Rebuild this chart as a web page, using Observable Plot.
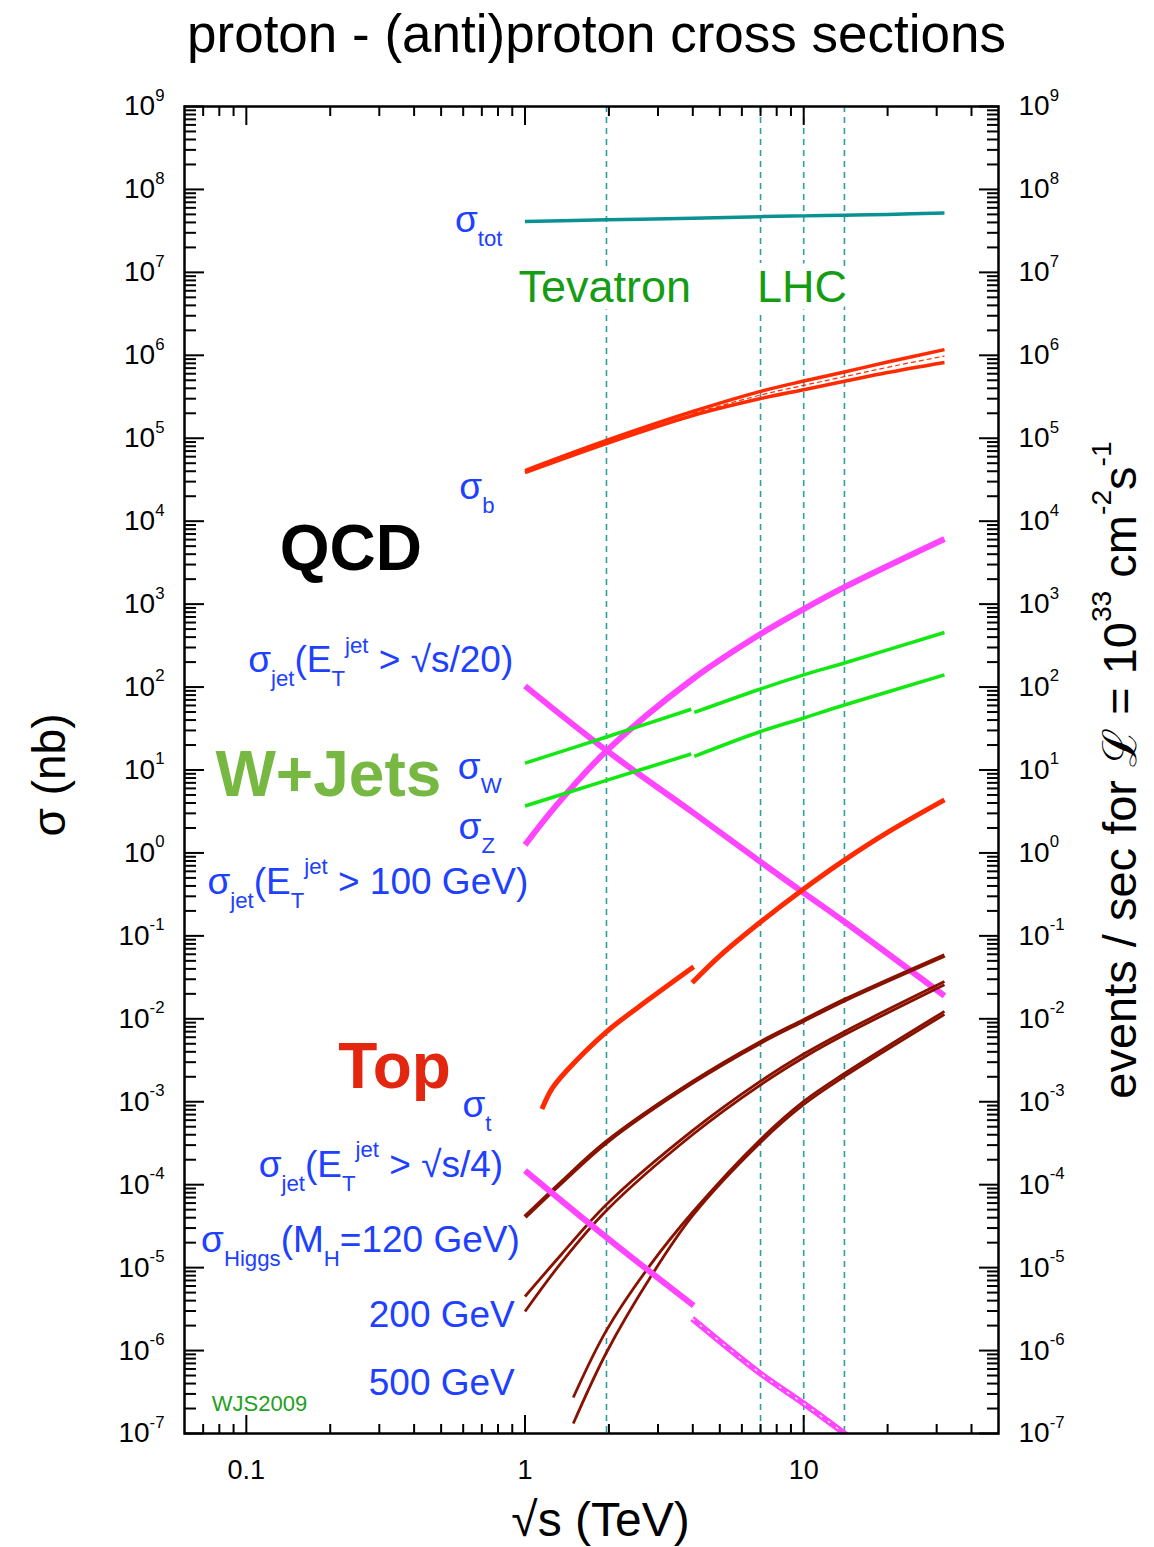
<!DOCTYPE html>
<html><head><meta charset="utf-8">
<script src="https://cdn.jsdelivr.net/npm/d3@7"></script>
<script src="https://cdn.jsdelivr.net/npm/@observablehq/plot@0.6"></script>
<style>html,body{margin:0;padding:0;background:#fff;} svg{display:block;}</style>
</head><body><div id="chart"></div>
<script>
// ---------- data (sqrt(s) in TeV, sigma in nb) ----------
const sTot = [1, 1.96, 4, 7, 10, 14, 20, 32];
const sigmaTot = [4.1e7, 4.3e7, 4.5e7, 4.7e7, 4.8e7, 4.9e7, 5.0e7, 5.2e7];

const sB = [1, 1.96, 4, 7, 10, 14, 20, 32];
const sigmaBHigh = [4.08e4, 9.4e4, 2.1e5, 3.67e5, 4.9e5, 6.3e5, 8.3e5, 1.17e6];
const sigmaBLow  = [3.86e4, 8.65e4, 1.88e5, 3.01e5, 3.85e5, 4.86e5, 6.2e5, 8.19e5];
const sBMid = [4, 7, 10, 14, 20, 32];
const sigmaBMid = [1.99e5, 3.32e5, 4.34e5, 5.53e5, 7.17e5, 9.8e5];

const sJet20 = [1, 1.96, 4, 7, 10, 14, 32];
const sigmaJet20 = [103, 17.2, 3.08, 0.78, 0.33, 0.148, 0.0189];

const sJet100 = [1, 1.3, 1.96, 4, 7, 10, 14, 32];
const sigmaJet100 = [1.25, 3.8, 17, 125, 436, 870, 1600, 6100];

const sWZppbar = [1, 1.96, 3.95];
const sWZpp = [4.05, 7, 10, 14, 32];
const sigmaWppbar = [12.1, 25, 54];
const sigmaWpp = [49.4, 94.8, 140, 195, 455];
const sigmaZppbar = [3.68, 7.5, 15.6];
const sigmaZpp = [14.6, 29.1, 42.4, 60.8, 140];

const sTopPpbar = [1.15, 1.25, 1.4, 1.96, 2.8, 4.03];
const sigmaTopPpbar = [8.2e-4, 1.44e-3, 2.3e-3, 6.97e-3, 0.0174, 0.0424];
const sTopPP = [3.98, 5, 7, 10, 14, 20, 32];
const sigmaTopPP = [0.0272, 0.0574, 0.147, 0.368, 0.82, 1.77, 4.36];

const sJet4Ppbar = [1, 1.96, 4.03];
const sigmaJet4Ppbar = [1.48e-4, 2.32e-5, 3.48e-6];
const sJet4PP = [3.98, 7, 10, 14.3];
const sigmaJet4PP = [2.43e-6, 5.28e-7, 2.3e-7, 0.95e-7];

const sH = [1, 1.35, 1.96, 4, 7, 10, 14, 32];
const sigmaH120 = [4.08e-5, 1.06e-4, 3.26e-4, 1.72e-3, 5.19e-3, 9.55e-3, 0.0168, 0.0581];
const sigmaH200High = [4.49e-6, 1.44e-5, 5.77e-5, 4.51e-4, 1.77e-3, 3.76e-3, 7.0e-3, 0.0281];
const sigmaH200Low  = [2.96e-6, 1.15e-5, 4.89e-5, 4.03e-4, 1.60e-3, 3.42e-3, 6.41e-3, 0.0258];
const sH500 = [1.49, 1.96, 2.8, 4, 7, 10, 14, 32];
const sigmaH500High = [2.72e-7, 1.75e-6, 1.05e-5, 4.68e-5, 3.51e-4, 1.01e-3, 2.19e-3, 0.0123];
const sigmaH500Low  = [1.32e-7, 9.48e-7, 7.40e-6, 4.26e-5, 3.23e-4, 9.27e-4, 2.02e-3, 0.0113];

const colliderEnergies = [1.96, 7, 10, 14];

// ticks
const yExponents = [-7, -6, -5, -4, -3, -2, -1, 0, 1, 2, 3, 4, 5, 6, 7, 8, 9];
const xTickLabels = [0.1, 1, 10];

// annotations (anchor position in data space)
const blueLabels = [
  {s: 0.830, v: 4.26e7, t: "σ_{tot}"},
  {s: 0.777, v: 2.57e4, t: "σ_{b}"},
  {s: 0.907, v: 211, t: "σ_{jet}(E_{T}^{jet} > √s/20)"},
  {s: 0.824, v: 10.9, t: "σ_{W}"},
  {s: 0.780, v: 2.06, t: "σ_{Z}"},
  {s: 1.027, v: 0.448, t: "σ_{jet}(E_{T}^{jet} > 100 GeV)"},
  {s: 0.758, v: 9.2e-4, t: "σ_{t}"},
  {s: 0.835, v: 1.74e-4, t: "σ_{jet}(E_{T}^{jet} > √s/4)"},
  {s: 0.958, v: 2.17e-5, t: "σ_{Higgs}(M_{H}=120 GeV)"},
  {s: 0.919, v: 2.64e-6, t: "200 GeV"},
  {s: 0.919, v: 4.0e-7, t: "500 GeV"}
];
const bigLabels = [
  {s: 0.237, v: 4.6e3, t: "QCD"},
  {s: 0.197, v: 8.5, t: "W+Jets"},
  {s: 0.3405, v: 2.57e-3, t: "Top"}
];
const colliderLabels = [
  {s: 1.932, v: 6.6e6, t: "Tevatron"},
  {s: 9.86, v: 6.6e6, t: "LHC"}
];
const signature = [{s: 0.0752, v: 2.3e-7, t: "WJS2009"}];

const titleText = "proton - (anti)proton cross sections";
const xTitle = "√s (TeV)";
const yTitle = "σ (nb)";
const y2Title = "events / sec for ℒ = 10^{33} cm^{-2}s^{-1}";

// ---------- helpers ----------
const rows = (seg, s, v) => s.map((x, i) => ({seg, s: x, v: v[i]}));
const bigColor = {"QCD": "#000000", "W+Jets": "#77b843", "Top": "#e3260f"};

const yMajor = yExponents.map(e => Math.pow(10, e));
const yMinor = [];
for (const e of yExponents.slice(0, -1)) for (let k = 2; k <= 9; k++) yMinor.push(k * Math.pow(10, e));
const xMajor = xTickLabels;
const xMinor = [0.07, 0.08, 0.09, 0.2, 0.3, 0.4, 0.5, 0.6, 0.7, 0.8, 0.9, 2, 3, 4, 5, 6, 7, 8, 9, 20, 30, 40];

const FONT = "'Liberation Sans', Arial, Helvetica, sans-serif";
const BLUE = "#2040ff";
const lineOpts = {x: "s", y: "v", z: "seg", curve: "catmull-rom", strokeLinecap: "butt"};

const supFmt = d => `10^{${Math.round(Math.log10(d))}}`;
const blank = () => "";

const svg = Plot.plot({
  width: 1154,
  height: 1547,
  marginLeft: 184,
  marginRight: 156,
  marginTop: 106,
  marginBottom: 114,
  x: {type: "log", domain: [0.06, 50]},
  y: {type: "log", domain: [1e-7, 1e9]},
  style: {fontFamily: FONT, fontSize: "26px", background: "#fff", color: "#000", overflow: "visible"},
  marks: [
    Plot.ruleX(colliderEnergies, {stroke: "#2e9e9e", strokeWidth: 1.6, strokeDasharray: "6,5"}),
    Plot.text(colliderLabels, {x: "s", y: "v", text: "t", fill: "#159c15", fontSize: 45, stroke: "white", strokeWidth: 16, strokeLinejoin: "round"}),

    Plot.line(rows("tot", sTot, sigmaTot), {...lineOpts, stroke: "#089292", strokeWidth: 3.5}),

    Plot.line(rows("bh", sB, sigmaBHigh), {...lineOpts, stroke: "#ff2a00", strokeWidth: 3.5}),
    Plot.line(rows("bl", sB, sigmaBLow), {...lineOpts, stroke: "#ff2a00", strokeWidth: 3.5}),
    Plot.line(rows("bm", sBMid, sigmaBMid), {...lineOpts, stroke: "#ff2a00", strokeWidth: 1.2, strokeDasharray: "5,3"}),

    Plot.line(rows("j20", sJet20, sigmaJet20), {...lineOpts, stroke: "#ff45ff", strokeWidth: 6}),
    Plot.line(rows("j100", sJet100, sigmaJet100), {...lineOpts, stroke: "#ff45ff", strokeWidth: 6}),

    Plot.line([...rows("w1", sWZppbar, sigmaWppbar), ...rows("w2", sWZpp, sigmaWpp),
               ...rows("z1", sWZppbar, sigmaZppbar), ...rows("z2", sWZpp, sigmaZpp)],
              {...lineOpts, stroke: "#12e812", strokeWidth: 3.5}),

    Plot.line([...rows("t1", sTopPpbar, sigmaTopPpbar), ...rows("t2", sTopPP, sigmaTopPP)],
              {...lineOpts, stroke: "#ff2a00", strokeWidth: 5}),

    Plot.line(rows("h120", sH, sigmaH120), {...lineOpts, stroke: "#881100", strokeWidth: 4.5}),
    Plot.line([...rows("h200a", sH, sigmaH200High), ...rows("h200b", sH, sigmaH200Low),
               ...rows("h500a", sH500, sigmaH500High), ...rows("h500b", sH500, sigmaH500Low)],
              {...lineOpts, stroke: "#881100", strokeWidth: 2.8}),

    Plot.line([...rows("j4a", sJet4Ppbar, sigmaJet4Ppbar), ...rows("j4b", sJet4PP, sigmaJet4PP)],
              {...lineOpts, stroke: "#ff45ff", strokeWidth: 6, clip: true}),
    Plot.line(rows("j4w", sJet4PP, sigmaJet4PP), {...lineOpts, stroke: "white", strokeWidth: 1.2, strokeDasharray: "3,7", clip: true}),

    Plot.frame({stroke: "#000", strokeWidth: 2.5}),

    // inward ticks
    Plot.axisY(yMajor, {anchor: "left", tickSize: -20, strokeWidth: 2, tickFormat: blank, label: null}),
    Plot.axisY(yMinor, {anchor: "left", tickSize: -12, strokeWidth: 2, tickFormat: blank, label: null}),
    Plot.axisY(yMajor, {anchor: "right", tickSize: -20, strokeWidth: 2, tickFormat: blank, label: null}),
    Plot.axisY(yMinor, {anchor: "right", tickSize: -12, strokeWidth: 2, tickFormat: blank, label: null}),
    Plot.axisX(xMajor, {anchor: "bottom", tickSize: -18, strokeWidth: 2, tickFormat: blank, label: null}),
    Plot.axisX(xMinor, {anchor: "bottom", tickSize: -9, strokeWidth: 2, tickFormat: blank, label: null}),
    Plot.axisX(xMajor, {anchor: "top", tickSize: -18, strokeWidth: 2, tickFormat: blank, label: null}),
    Plot.axisX(xMinor, {anchor: "top", tickSize: -9, strokeWidth: 2, tickFormat: blank, label: null}),

    // tick labels
    Plot.axisY(yMajor, {anchor: "left", tickSize: 0, tickPadding: 20, tickFormat: supFmt, fontSize: 28, label: null}),
    Plot.axisY(yMajor, {anchor: "right", tickSize: 0, tickPadding: 20, tickFormat: supFmt, fontSize: 28, label: null}),
    Plot.axisX(xMajor, {anchor: "bottom", tickSize: 0, tickPadding: 26, tickFormat: d => String(d), fontSize: 27, label: null}),

    // annotations
    Plot.text(blueLabels, {x: "s", y: "v", text: "t", textAnchor: "end", fill: BLUE, fontSize: 37}),
    Plot.text(bigLabels, {x: "s", y: "v", text: "t", fill: d => bigColor[d.t], fontSize: 64, fontWeight: "bold"}),
    Plot.text(signature, {x: "s", y: "v", text: "t", textAnchor: "start", fill: "#22a022", fontSize: 22}),

    // titles
    Plot.text([titleText], {text: d => d, frameAnchor: "top", textAnchor: "middle", lineAnchor: "middle", dx: 5, dy: -71, fontSize: 53}),
    Plot.text([xTitle], {text: d => d, frameAnchor: "bottom", textAnchor: "middle", lineAnchor: "middle", dx: 9, dy: 87, fontSize: 48}),
    Plot.text([yTitle], {text: d => d, frameAnchor: "left", textAnchor: "middle", lineAnchor: "middle", dx: -134, dy: 5, rotate: -90, fontSize: 46}),
    Plot.text([y2Title], {text: d => d, frameAnchor: "right", textAnchor: "middle", lineAnchor: "middle", dx: 122, dy: 0, rotate: -90, fontSize: 47})
  ]
});

document.getElementById("chart").append(svg);

// turn _{..} / ^{..} markup into sub/superscript tspans
function richify(root) {
  const NS = "http://www.w3.org/2000/svg";
  root.querySelectorAll("text").forEach(t => {
    const s = t.textContent;
    if (!/[_^]\{/.test(s)) return;
    const fs = parseFloat(getComputedStyle(t).fontSize) || 16;
    while (t.firstChild) t.removeChild(t.firstChild);
    const re = /([_^])\{([^}]*)\}|([^_^]+|[_^])/g;
    let m, cur = 0;
    while ((m = re.exec(s))) {
      const ts = document.createElementNS(NS, "tspan");
      let target, size, txt;
      if (m[1]) { target = m[1] === "_" ? 0.38 * fs : -0.52 * fs; size = 0.6 * fs; txt = m[2]; }
      else { target = 0; size = fs; txt = m[3]; }
      if (target !== cur) ts.setAttribute("dy", (target - cur).toFixed(2));
      cur = target;
      ts.setAttribute("font-size", size.toFixed(2));
      ts.textContent = txt;
      t.appendChild(ts);
    }
  });
}
richify(svg);
</script></body></html>
